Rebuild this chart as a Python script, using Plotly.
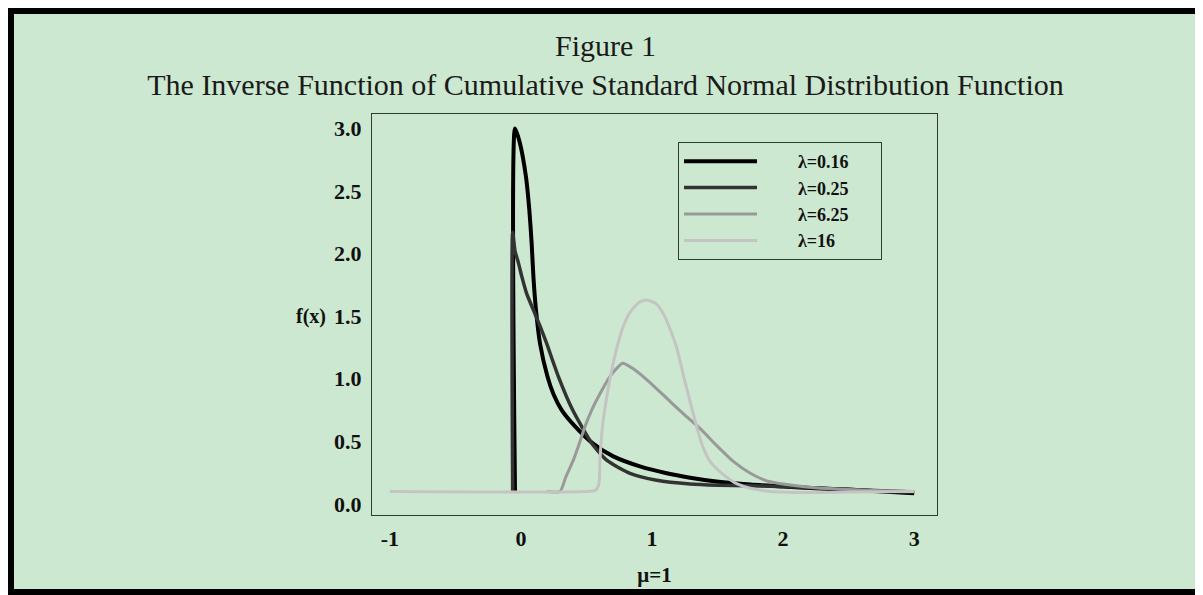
import plotly.graph_objects as go

# ---- data ----
series_names = ["λ=0.16", "λ=0.25", "λ=6.25", "λ=16"]

x_l016 = [-0.045, -0.045, -0.007, 0.039, 0.064, 0.082, 0.095, 0.115, 0.146, 0.202, 0.247,
          0.311, 0.413, 0.553, 0.705, 0.908, 1.112, 1.29, 1.49, 1.75, 2.0, 2.25, 2.5, 2.75, 3.0]
y_l016 = [0.10, 3.00, 2.88, 2.61, 2.35, 2.08, 1.82, 1.55, 1.28, 1.02, 0.88,
          0.75, 0.62, 0.48, 0.38, 0.30, 0.245, 0.21, 0.18, 0.155, 0.14, 0.125, 0.115, 0.10, 0.085]

x_l025 = [-0.063, -0.063, -0.045, -0.02, 0.006, 0.044, 0.095, 0.146, 0.197, 0.285, 0.395,
          0.54, 0.654, 0.832, 1.036, 1.29, 1.5, 1.75, 2.0, 2.5, 3.0]
y_l025 = [0.10, 2.17, 2.02, 1.93, 1.82, 1.68, 1.55, 1.42, 1.28, 1.02, 0.75,
          0.485, 0.35, 0.245, 0.19, 0.16, 0.15, 0.145, 0.14, 0.115, 0.095]

x_l625 = [0.20, 0.298, 0.344, 0.40, 0.446, 0.489, 0.54, 0.603, 0.68, 0.743, 0.775, 0.857,
          0.985, 1.137, 1.24, 1.37, 1.49, 1.62, 1.75, 1.875, 2.0, 2.25, 2.5, 2.75, 3.0]
y_l625 = [0.10, 0.10, 0.22, 0.35, 0.485, 0.62, 0.75, 0.88, 1.02, 1.097, 1.125, 1.08,
          0.97, 0.82, 0.72, 0.60, 0.47, 0.34, 0.245, 0.185, 0.16, 0.13, 0.115, 0.105, 0.10]

x_l16 = [-1.0, 0.50, 0.57, 0.595, 0.603, 0.62, 0.667, 0.705, 0.745, 0.785, 0.832, 0.90, 0.96,
         1.03, 1.086, 1.137, 1.188, 1.239, 1.29, 1.34, 1.39, 1.45, 1.544, 1.65, 1.75, 1.9,
         2.1, 2.5, 3.0]
y_l16 = [0.10, 0.10, 0.11, 0.16, 0.35, 0.60, 0.93, 1.13, 1.30, 1.43, 1.53, 1.61, 1.63,
         1.60, 1.52, 1.40, 1.25, 1.03, 0.82, 0.62, 0.45, 0.33, 0.235, 0.16, 0.125, 0.10,
         0.092, 0.095, 0.10]

x_ticks = [-1, 0, 1, 2, 3]
y_ticks = [0.0, 0.5, 1.0, 1.5, 2.0, 2.5, 3.0]
y_ticklabels = ["0.0", "0.5", "1.0", "1.5", "2.0", "2.5", "3.0"]

colors = ["#000000", "#333333", "#999999", "#c4c4c4"]
widths = [4, 3.5, 3, 3]

SERIF = "Liberation Serif"
GREEN = "#cde8d0"
NB = "\u00a0"

xs = [x_l016, x_l025, x_l625, x_l16]
ys = [y_l016, y_l025, y_l625, y_l16]

fig = go.Figure()
for name, xv, yv, c, w in zip(series_names, xs, ys, colors, widths):
    fig.add_trace(go.Scatter(x=xv, y=yv, mode="lines", name=NB * 8 + name + NB * 6,
                             line=dict(color=c, width=w, shape="spline", smoothing=0.6)))

# page body adds an 8px offset, so figure coords = picture coords - 8
OFF = 8
W, H = 1203 - OFF, 595 - OFF
L, R, T, B = 364, 266, 106, 80
pw, ph = W - L - R, H - T - B


def px(xp):  # figure pixel -> paper x
    return (xp - L) / pw


def py(yp):  # figure pixel -> paper y
    return (H - B - yp) / ph


fig.update_layout(
    width=W, height=H,
    margin=dict(l=L, r=R, t=T, b=B),
    paper_bgcolor="white",
    plot_bgcolor=GREEN,
    title=dict(
        text="Figure 1<br>The Inverse Function of Cumulative Standard Normal Distribution Function",
        x=0.5, xanchor="center", xref="container",
        y=1 - 48 / H, yanchor="top", yref="container",
        font=dict(family=SERIF, size=30, color="#1a1a1a"),
    ),
    xaxis=dict(
        range=[-1.136, 3.174], tickvals=x_ticks, ticktext=[str(v) for v in x_ticks],
        showgrid=False, zeroline=False, showline=True, linecolor="#2f3d2f", linewidth=1,
        mirror=True, ticks="outside", ticklen=4, tickcolor="rgba(0,0,0,0)",
        tickfont=dict(family=SERIF, size=22, color="#111", weight="bold"),
        title=dict(text="μ=1", standoff=16,
                   font=dict(family=SERIF, size=21, color="#111", weight="bold")),
    ),
    yaxis=dict(
        range=[-0.088, 3.115], tickvals=y_ticks, ticktext=y_ticklabels,
        showgrid=False, zeroline=False, showline=True, linecolor="#2f3d2f", linewidth=1,
        mirror=True, ticks="outside", ticklen=5, tickcolor="rgba(0,0,0,0)",
        tickfont=dict(family=SERIF, size=22, color="#111", weight="bold"),
    ),
    legend=dict(
        x=px(678 - OFF), y=py(142 - OFF), xanchor="left", yanchor="top",
        bgcolor="rgba(0,0,0,0)", bordercolor="#2f3d2f", borderwidth=1,
        font=dict(family=SERIF, size=18, color="#111", weight="bold"),
        itemwidth=73, tracegroupgap=0,
    ),
    showlegend=True,
    annotations=[
        dict(text="f(x)", xref="paper", yref="y", x=px(328 - OFF), y=1.5,
             xanchor="right", yanchor="middle", showarrow=False,
             font=dict(family=SERIF, size=20, color="#111", weight="bold")),
    ],
    shapes=[
        dict(type="rect", xref="paper", yref="paper", layer="below",
             x0=px(2.5), x1=px(W - 3.5), y0=py(H - 2.5), y1=py(2.5),
             fillcolor=GREEN, line=dict(color="black", width=7)),
    ],
)

fig.write_html("out.html")
